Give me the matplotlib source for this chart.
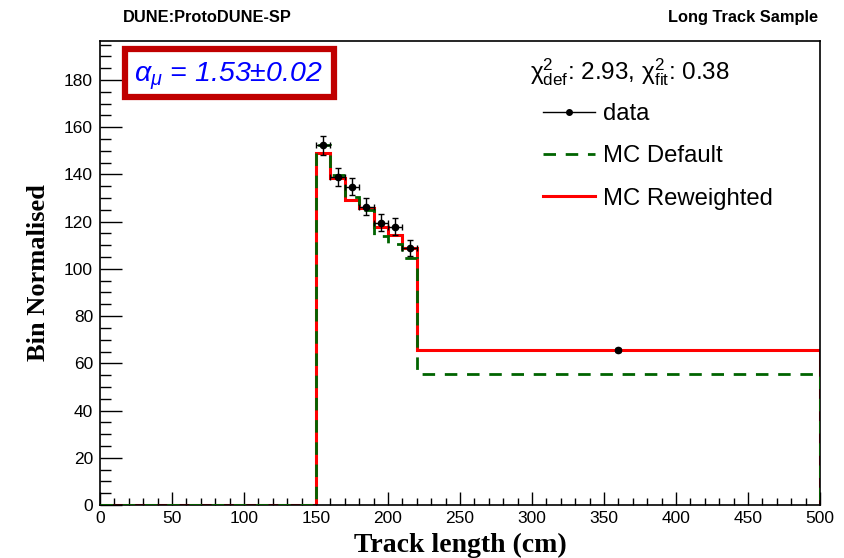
import numpy as np
import matplotlib
matplotlib.use("Agg")
import matplotlib.pyplot as plt
from matplotlib.patches import Rectangle
from matplotlib.lines import Line2D
from matplotlib.ticker import MultipleLocator

plt.rcParams['font.family'] = ['Liberation Sans', 'DejaVu Sans']
plt.rcParams['mathtext.fontset'] = 'custom'
plt.rcParams['mathtext.rm'] = 'Liberation Sans'
plt.rcParams['mathtext.it'] = 'Liberation Sans:italic'
plt.rcParams['mathtext.bf'] = 'Liberation Sans:bold'

# --- binning (cm) ---
edges = [0, 150, 160, 170, 180, 190, 200, 210, 220, 500]

# --- MC histograms (bin normalised) ---
mc_default = [0, 152.5, 139.8, 130.5, 125.0, 114.0, 110.7, 104.8, 55.6]
mc_reweighted = [0, 149.0, 138.4, 129.3, 125.7, 117.8, 114.4, 109.0, 65.8]

# --- data points ---
data_x = [155, 165, 175, 185, 195, 205, 215, 360]
data_y = [152.3, 139.0, 134.8, 126.4, 119.6, 117.9, 109.0, 65.6]
data_yerr = [4.0, 3.8, 3.7, 3.6, 3.5, 3.5, 3.4, 1.0]
data_xerr = [5, 5, 5, 5, 5, 5, 5, 0]   # wide bin drawn without x error

alpha_text = r'$\alpha_{\mu}$ = 1.53$\pm$0.02'
chi_text = r'χ$^2_{\rm def}$: 2.93, χ$^2_{\rm fit}$: 0.38'

fig = plt.figure(figsize=(8.44, 5.58), dpi=100)
ax = fig.add_axes([0.1185, 0.095, 0.853, 0.8315])

ax.stairs(mc_default, edges, color='#006400', lw=2.0, ls=(0, (4.5, 3.5)), zorder=3)
ax.stairs(mc_reweighted, edges, color='#ff0000', lw=2.2, zorder=2)
ax.errorbar(data_x, data_y, yerr=data_yerr, xerr=data_xerr, fmt='o', color='black',
            ms=4.5, elinewidth=1.0, capsize=2, capthick=1.0, zorder=5)

ax.set_xlim(0, 500)
ax.set_ylim(0, 196.5)
ax.xaxis.set_major_locator(MultipleLocator(50))
ax.xaxis.set_minor_locator(MultipleLocator(10))
ax.yaxis.set_major_locator(MultipleLocator(20))
ax.yaxis.set_minor_locator(MultipleLocator(5))
ax.tick_params(axis='both', which='both', direction='in', top=False, right=False,
               labelsize=12.5, width=1.0)
ax.tick_params(axis='x', which='major', length=9.5, pad=4)
ax.tick_params(axis='x', which='minor', length=5)
ax.tick_params(axis='y', which='major', length=15.5, pad=5)
ax.tick_params(axis='y', which='minor', length=8)
for s in ax.spines.values():
    s.set_linewidth(1.2)

ax.set_xlabel('Track length (cm)', family='Liberation Serif', fontweight='bold',
              fontsize=20, labelpad=5)
ax.set_ylabel('Bin Normalised', family='Liberation Serif', fontweight='bold',
              fontsize=19, labelpad=10)

fig.text(0.146, 0.968, 'DUNE:ProtoDUNE-SP', fontweight='bold', fontsize=11.8,
         ha='left', va='center')
fig.text(0.969, 0.968, 'Long Track Sample', fontweight='bold', fontsize=11.8,
         ha='right', va='center')

# alpha box
box = Rectangle((0.035, 0.879), 0.290, 0.103, transform=ax.transAxes, fill=False,
                edgecolor='#c00000', lw=4.5, zorder=6)
ax.add_patch(box)
ax.text(0.178, 0.924, alpha_text, transform=ax.transAxes, color='#0000ff',
        fontsize=20.5, style='italic', ha='center', va='center', zorder=7)

# legend
ax.text(0.597, 0.933, chi_text, transform=ax.transAxes, fontsize=17.5,
        ha='left', va='center')
handles = [Line2D([], [], color='black', lw=1.0, marker='o', ms=4),
           Line2D([], [], color='#006400', lw=2.0, ls=(0, (4.5, 3.5))),
           Line2D([], [], color='#ff0000', lw=2.2)]
ax.legend(handles, ['data', 'MC Default', 'MC Reweighted'], loc='upper left',
          bbox_to_anchor=(0.616, 0.866), frameon=False, fontsize=17.2,
          handlelength=2.15, handletextpad=0.33, labelspacing=0.85, borderpad=0,
          borderaxespad=0)

fig.savefig('out.png', dpi=100)
